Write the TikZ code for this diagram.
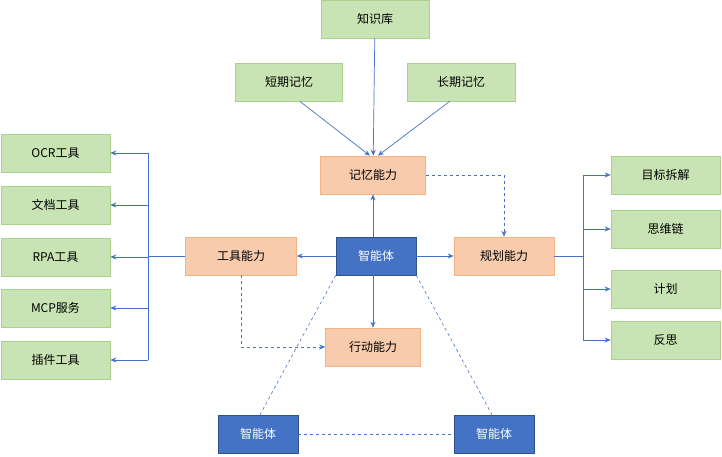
\documentclass[tikz,border=0pt]{standalone}
\usepackage{fontspec}
\setmainfont{Noto Sans CJK SC}
\usetikzlibrary{arrows.meta}
\definecolor{gf}{HTML}{C9E4B4}\definecolor{gb}{HTML}{A9D18E}
\definecolor{of}{HTML}{F8CBAD}\definecolor{ob}{HTML}{F4B183}
\definecolor{bl}{HTML}{4472C4}\definecolor{bb}{HTML}{2F528F}
\begin{document}
\begin{tikzpicture}[x=1pt,y=-1pt,font=\fontsize{12}{14}\selectfont,
 box/.style={draw,line width=0.6pt,minimum height=38pt,inner sep=0pt},
 g/.style={box,fill=gf,draw=gb},
 o/.style={box,fill=of,draw=ob},
 b/.style={box,fill=bl,draw=bb,text=white,minimum width=80pt},
 ar/.style={draw=bl,line width=0.7pt,-{Stealth[length=6pt,width=5pt]}},
 da/.style={ar,dashed},
 dl/.style={draw=bl,line width=0.6pt,dashed}]
\useasboundingbox (0,0) rectangle (722,457);
\node[g,minimum width=108pt] (kb) at (375,19) {知识库};
\node[g,minimum width=107pt] (st) at (289,82) {短期记忆};
\node[g,minimum width=108pt] (lt) at (461,82) {长期记忆};
\node[o,minimum width=105pt] (mem) at (373,175) {记忆能力};
\node[b] (ag) at (376,256) {智能体};
\node[o,minimum width=111pt] (tool) at (241,256) {工具能力};
\node[o,minimum width=100pt] (plan) at (504,256) {规划能力};
\node[o,minimum width=95pt] (act) at (373,347) {行动能力};
\node[b] (a1) at (258,434) {智能体};
\node[b] (a2) at (494,434) {智能体};
\foreach \n/\t/\y in {l1/OCR工具/153,l2/文档工具/205,l3/RPA工具/257,l4/MCP服务/308,l5/插件工具/360}
  \node[g,minimum width=109pt] (\n) at (55.5,\y) {\t};
\foreach \n/\t/\y in {r1/目标拆解/175,r2/思维链/229,r3/计划/289,r4/反思/340}
  \node[g,minimum width=109pt] (\n) at (665.5,\y) {\t};
\draw[ar] (kb) -- (mem);
\draw[ar] (st.south east)++(-43,0) -- ([xshift=-3pt]mem.north);
\draw[ar] (lt.south west)++(43,0) -- ([xshift=5pt]mem.north);
\draw[ar] ([xshift=-3pt]ag.north) -- ([xshift=0pt]mem.south);
\draw[ar] (ag) -- (tool);
\draw[ar] (ag) -- (plan);
\draw[ar] ([xshift=-3pt]ag.south) -- (act);
\draw[da] (mem.east) -| (plan.north);
\draw[da] (tool.south) |- (act.west);
\coordinate (tl) at (148,256);
\draw[draw=bl,line width=0.7pt] (tool.west) -- (tl) (148,153) -- (148,360);
\foreach \n in {l1,l2,l3,l4,l5} \draw[ar] (148,0 |- \n.east) -- (\n.east);
\coordinate (pr) at (583,256);
\draw[draw=bl,line width=0.7pt] (plan.east) -- (pr) (583,175) -- (583,340);
\foreach \n in {r1,r2,r3,r4} \draw[ar] (583,0 |- \n.west) -- (\n.west);
\draw[dl] (ag.south west) -- ([xshift=2pt]a1.north);
\draw[dl] (ag.south east) -- ([xshift=-2pt]a2.north);
\draw[dl] (a1) -- (a2);
\end{tikzpicture}
\end{document}
